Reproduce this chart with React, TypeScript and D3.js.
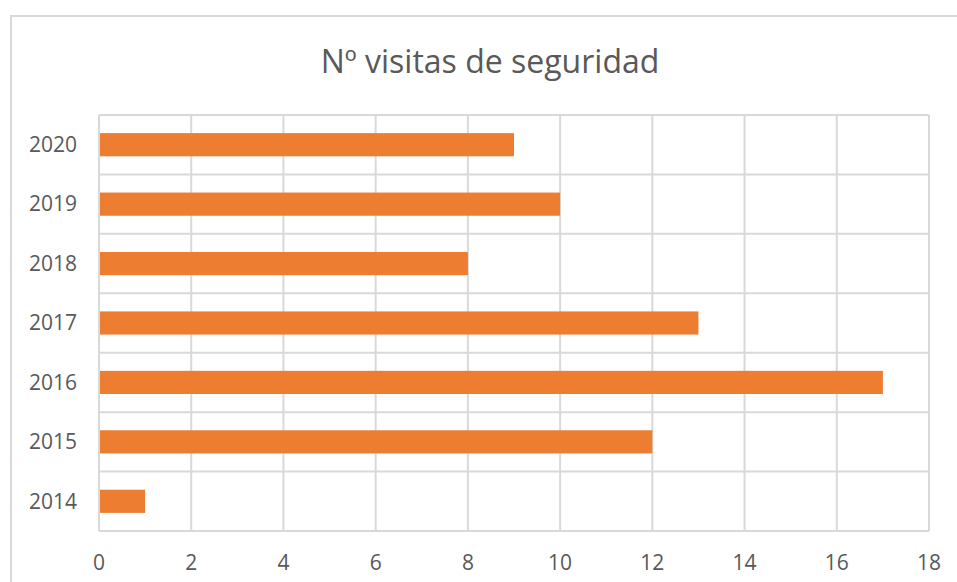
import { useEffect, useRef } from "react";
import * as d3 from "d3";

const years = ["2020", "2019", "2018", "2017", "2016", "2015", "2014"];
const visits = [9, 10, 8, 13, 17, 12, 1];
const xTicks = [0, 2, 4, 6, 8, 10, 12, 14, 16, 18];

const title = "Nº visitas de seguridad";

export default function App() {
  const ref = useRef<SVGSVGElement>(null);

  useEffect(() => {
    const svg = d3.select(ref.current);
    svg.selectAll("*").remove();

    const width = 957;
    const height = 582;
    const margin = { top: 115, right: 28, bottom: 51, left: 99 };
    const grid = "#d9d9d9";
    const textColor = "#595959";
    const font = "'Open Sans', Lato, sans-serif";

    svg.append("rect").attr("width", width).attr("height", height).attr("fill", "#fff");

    // outer chart frame
    svg
      .append("rect")
      .attr("x", 11)
      .attr("y", 16)
      .attr("width", width + 20)
      .attr("height", height + 20)
      .attr("fill", "none")
      .attr("stroke", grid)
      .attr("stroke-width", 2);

    const x = d3
      .scaleLinear()
      .domain([0, 18])
      .range([margin.left, width - margin.right]);

    const y = d3
      .scaleBand()
      .domain(years)
      .range([margin.top, height - margin.bottom])
      .paddingInner(0)
      .paddingOuter(0);

    // vertical gridlines
    svg
      .append("g")
      .selectAll("line")
      .data(xTicks)
      .join("line")
      .attr("x1", (d) => x(d))
      .attr("x2", (d) => x(d))
      .attr("y1", margin.top)
      .attr("y2", height - margin.bottom)
      .attr("stroke", grid)
      .attr("stroke-width", 2);

    // horizontal gridlines at band edges
    const edges = years.map((d) => y(d) as number).concat([height - margin.bottom]);
    svg
      .append("g")
      .selectAll("line")
      .data(edges)
      .join("line")
      .attr("x1", margin.left)
      .attr("x2", width - margin.right)
      .attr("y1", (d) => d)
      .attr("y2", (d) => d)
      .attr("stroke", grid)
      .attr("stroke-width", 2);

    const barH = y.bandwidth() * 0.39;
    svg
      .append("g")
      .selectAll("rect")
      .data(years)
      .join("rect")
      .attr("x", x(0) + 1)
      .attr("y", (d) => (y(d) as number) + y.bandwidth() / 2 - barH / 2)
      .attr("width", (d, i) => x(visits[i]) - x(0) - 1)
      .attr("height", barH)
      .attr("fill", "#ed7d31");

    // y labels
    svg
      .append("g")
      .selectAll("text")
      .data(years)
      .join("text")
      .attr("x", 77)
      .attr("y", (d) => (y(d) as number) + y.bandwidth() / 2)
      .attr("dy", "0.35em")
      .attr("text-anchor", "end")
      .attr("font-family", font)
      .attr("font-size", 21)
      .attr("fill", textColor)
      .text((d) => d);

    // x labels
    svg
      .append("g")
      .selectAll("text")
      .data(xTicks)
      .join("text")
      .attr("x", (d) => x(d))
      .attr("y", 563)
      .attr("dy", "0.35em")
      .attr("text-anchor", "middle")
      .attr("font-family", font)
      .attr("font-size", 21)
      .attr("fill", textColor)
      .text((d) => d);

    svg
      .append("text")
      .attr("x", 490)
      .attr("y", 62)
      .attr("dy", "0.35em")
      .attr("text-anchor", "middle")
      .attr("font-family", font)
      .attr("font-size", 32)
      .attr("fill", textColor)
      .text(title);
  }, []);

  return (
    <svg
      ref={ref}
      width={957}
      height={582}
      style={{ position: "absolute", left: 0, top: 0, display: "block" }}
    ></svg>
  );
}
